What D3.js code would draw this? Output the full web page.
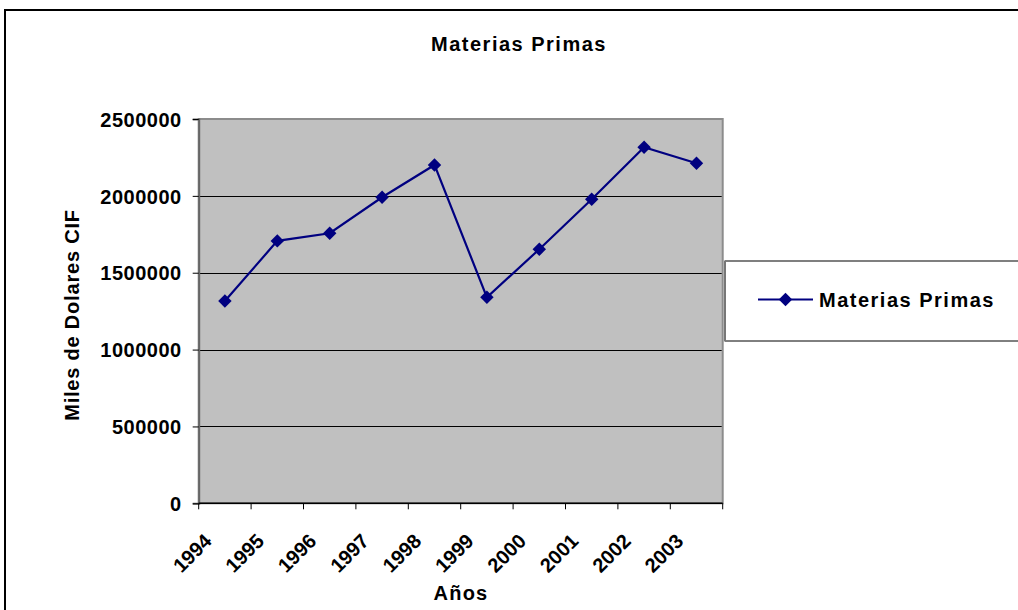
<!DOCTYPE html>
<html>
<head>
<meta charset="utf-8">
<script src="https://cdn.jsdelivr.net/npm/d3@7"></script>
<style>
  body { margin: 0; background: #fff; }
  text { font-family: "Liberation Sans", Arial, sans-serif; font-weight: bold; fill: #000; }
</style>
</head>
<body>
<script>
// Data
var years = ["1994", "1995", "1996", "1997", "1998", "1999", "2000", "2001", "2002", "2003"];
var values = [1316000, 1707000, 1757000, 1991000, 2201000, 1340000, 1653000, 1978000, 2316000, 2212000];
var yTicks = [0, 500000, 1000000, 1500000, 2000000, 2500000];
var seriesName = "Materias Primas";

var W = 1018, H = 610;
var plot = { left: 198.7, top: 119, right: 722.7, bottom: 503.3 };

var svg = d3.select("body").append("svg")
  .attr("width", W)
  .attr("height", H);

// outer chart border (runs off the right and bottom edges)
svg.append("rect")
  .attr("x", 5).attr("y", 10)
  .attr("width", W + 20).attr("height", H + 20)
  .attr("fill", "#fff")
  .attr("stroke", "#000")
  .attr("stroke-width", 2);

var x = d3.scaleBand().domain(years).range([plot.left, plot.right]);
var y = d3.scaleLinear().domain([0, 2500000]).range([plot.bottom, plot.top]);

// plot area
svg.append("rect")
  .attr("x", plot.left).attr("y", plot.top)
  .attr("width", plot.right - plot.left)
  .attr("height", plot.bottom - plot.top)
  .attr("fill", "#c0c0c0")
  .attr("stroke", "#8c8c8c")
  .attr("stroke-width", 2);

// gridlines
svg.append("g").selectAll("line")
  .data(yTicks.filter(function(d) { return d > 0 && d < 2500000; }))
  .enter().append("line")
  .attr("x1", plot.left).attr("x2", plot.right - 1)
  .attr("y1", function(d) { return Math.round(y(d)) + 0.5; })
  .attr("y2", function(d) { return Math.round(y(d)) + 0.5; })
  .attr("stroke", "#000")
  .attr("stroke-width", 1);

// Y axis
var yAxis = d3.axisLeft(y).tickValues(yTicks).tickSize(6).tickPadding(11)
  .tickFormat(d3.format("d"));
var gy = svg.append("g")
  .attr("transform", "translate(" + plot.left + ",0)")
  .call(yAxis);
gy.select(".domain").attr("stroke", "#666").attr("stroke-width", 2);
gy.selectAll(".tick line").attr("stroke", "#000");
gy.selectAll(".tick text")
  .style("font-size", "20px")
  .style("letter-spacing", "0.5px")
  .style("font-family", "Liberation Sans, Arial, sans-serif")
  .style("font-weight", "bold")
  .attr("fill", "#000")
  .attr("dy", "0.36em");

// X axis: ticks on band edges
var gx = svg.append("g")
  .attr("transform", "translate(0," + plot.bottom + ")");
gx.append("line")
  .attr("x1", plot.left).attr("x2", plot.right)
  .attr("stroke", "#000").attr("stroke-width", 1.5);
var edges = years.map(function(d) { return x(d); }).concat([plot.right]);
gx.selectAll(".edge").data(edges).enter().append("line")
  .attr("class", "edge")
  .attr("x1", function(d) { return d; }).attr("x2", function(d) { return d; })
  .attr("y1", 0).attr("y2", 6)
  .attr("stroke", "#000");
gx.selectAll(".lbl").data(years).enter().append("text")
  .attr("class", "lbl")
  .attr("transform", function(d) {
    return "translate(" + (x(d) + x.bandwidth() / 2 - 12) + ",39) rotate(-45)";
  })
  .attr("text-anchor", "end")
  .style("font-size", "20px")
  .text(function(d) { return d; });

// line + markers
var line = d3.line()
  .x(function(d, i) { return x(years[i]) + x.bandwidth() / 2; })
  .y(function(d) { return y(d); });

svg.append("path")
  .datum(values)
  .attr("d", line)
  .attr("fill", "none")
  .attr("stroke", "#000080")
  .attr("stroke-width", 2.2);

var diamond = d3.symbol().type(d3.symbolDiamond2).size(115);
svg.append("g").selectAll("path")
  .data(values)
  .enter().append("path")
  .attr("d", diamond)
  .attr("transform", function(d, i) {
    return "translate(" + (x(years[i]) + x.bandwidth() / 2) + "," + y(d) + ")";
  })
  .attr("fill", "#000080");

// titles
svg.append("text")
  .attr("x", 519).attr("y", 51)
  .attr("text-anchor", "middle")
  .style("font-size", "20px")
  .style("letter-spacing", "1.5px")
  .text(seriesName);

svg.append("text")
  .attr("x", 461).attr("y", 600)
  .attr("text-anchor", "middle")
  .style("font-size", "20px")
  .style("letter-spacing", "1.2px")
  .text("Años");

svg.append("text")
  .attr("transform", "translate(79,315) rotate(-90)")
  .attr("text-anchor", "middle")
  .style("font-size", "20px")
  .style("letter-spacing", "0.8px")
  .text("Miles de Dolares CIF");

// legend
var lg = svg.append("g");
lg.append("rect")
  .attr("x", 725).attr("y", 261)
  .attr("width", 320).attr("height", 80)
  .attr("fill", "#fff")
  .attr("stroke", "#000")
  .attr("stroke-width", 1);
lg.append("line")
  .attr("x1", 725).attr("x2", 725).attr("y1", 261).attr("y2", 341)
  .attr("stroke", "#777").attr("stroke-width", 2);
lg.append("line")
  .attr("x1", 758).attr("x2", 813).attr("y1", 299.5).attr("y2", 299.5)
  .attr("stroke", "#000080").attr("stroke-width", 2);
lg.append("path")
  .attr("d", diamond)
  .attr("transform", "translate(785.5,299.5)")
  .attr("fill", "#000080");
lg.append("text")
  .attr("x", 819).attr("y", 307)
  .style("font-size", "20px")
  .style("letter-spacing", "1.5px")
  .text(seriesName);
</script>
</body>
</html>
